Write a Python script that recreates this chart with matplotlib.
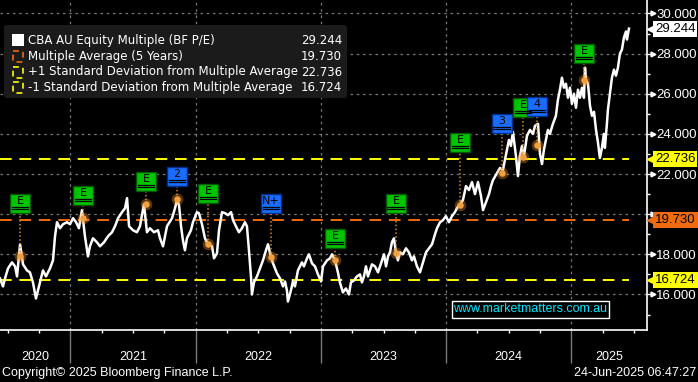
import matplotlib
matplotlib.use("Agg")
import matplotlib.pyplot as plt
import matplotlib.patches as mpatches
import matplotlib.transforms as mtransforms
import numpy as np

# CBA AU forward P/E (time in decimal years)
t_year = [
    2020.439, 2020.463, 2020.479, 2020.503, 2020.535, 2020.559, 2020.575, 2020.599, 2020.623, 2020.654,
    2020.678, 2020.702, 2020.726, 2020.742, 2020.758, 2020.782, 2020.806, 2020.838, 2020.862, 2020.878,
    2020.894, 2020.918, 2020.942, 2020.974, 2020.998, 2021.022, 2021.046, 2021.069, 2021.093, 2021.117,
    2021.141, 2021.157, 2021.181, 2021.213, 2021.237, 2021.269, 2021.301, 2021.333, 2021.357, 2021.381,
    2021.413, 2021.437, 2021.453, 2021.469, 2021.500, 2021.532, 2021.556, 2021.588, 2021.612, 2021.636,
    2021.668, 2021.700, 2021.716, 2021.740, 2021.772, 2021.812, 2021.836, 2021.852, 2021.868, 2021.884,
    2021.899, 2021.915, 2021.931, 2021.963, 2021.979, 2022.011, 2022.027, 2022.051, 2022.075, 2022.099,
    2022.131, 2022.147, 2022.171, 2022.187, 2022.211, 2022.235, 2022.259, 2022.283, 2022.299, 2022.322,
    2022.346, 2022.370, 2022.394, 2022.410, 2022.426, 2022.442, 2022.450, 2022.466, 2022.490, 2022.514,
    2022.538, 2022.562, 2022.578, 2022.602, 2022.618, 2022.650, 2022.674, 2022.698, 2022.714, 2022.729,
    2022.737, 2022.761, 2022.777, 2022.793, 2022.817, 2022.849, 2022.865, 2022.889, 2022.905, 2022.929,
    2022.953, 2022.977, 2023.001, 2023.017, 2023.049, 2023.073, 2023.089, 2023.113, 2023.136, 2023.152,
    2023.176, 2023.200, 2023.224, 2023.240, 2023.264, 2023.288, 2023.312, 2023.328, 2023.344, 2023.360,
    2023.376, 2023.392, 2023.408, 2023.432, 2023.456, 2023.472, 2023.488, 2023.504, 2023.520, 2023.536,
    2023.552, 2023.567, 2023.583, 2023.599, 2023.615, 2023.631, 2023.655, 2023.679, 2023.703, 2023.727,
    2023.743, 2023.767, 2023.791, 2023.815, 2023.839, 2023.863, 2023.887, 2023.911, 2023.927, 2023.951,
    2023.974, 2023.998, 2024.022, 2024.046, 2024.070, 2024.086, 2024.110, 2024.134, 2024.158, 2024.182,
    2024.206, 2024.230, 2024.254, 2024.278, 2024.294, 2024.318, 2024.342, 2024.358, 2024.374, 2024.397,
    2024.429, 2024.453, 2024.469, 2024.485, 2024.501, 2024.517, 2024.533, 2024.557, 2024.573, 2024.589,
    2024.605, 2024.621, 2024.645, 2024.669, 2024.693, 2024.709, 2024.733, 2024.749, 2024.765, 2024.780,
    2024.796, 2024.812, 2024.828, 2024.852, 2024.876, 2024.892, 2024.908, 2024.924, 2024.940, 2024.956,
    2024.972, 2024.988, 2025.004, 2025.020, 2025.036, 2025.052, 2025.068, 2025.084, 2025.100, 2025.108,
    2025.116, 2025.132, 2025.148, 2025.164, 2025.180, 2025.196, 2025.211, 2025.227, 2025.243, 2025.259,
    2025.267, 2025.283, 2025.291, 2025.307, 2025.323, 2025.339, 2025.355, 2025.371, 2025.387, 2025.403,
    2025.419, 2025.435, 2025.443, 2025.459,
]
pe = [
    16.8, 16.4, 16.8, 17.3, 17.6, 17.4, 16.9, 18.5, 17.5, 17.2,
    17.1, 16.6, 15.8, 16.2, 16.6, 17.2, 16.9, 17.3, 17.7, 18.9,
    19.6, 19.3, 19.5, 19.6, 19.5, 19.8, 19.6, 19.3, 20.2, 18.9,
    17.9, 18.4, 18.8, 18.6, 18.4, 18.6, 18.9, 19.1, 19.4, 19.8,
    20.1, 20.3, 20.8, 19.4, 19.2, 19.1, 19.4, 20.5, 19.1, 19.3,
    19.1, 19.2, 18.8, 18.4, 19.4, 19.8, 20.3, 20.7, 20.45, 19.4,
    18.7, 18.2, 18.8, 19.2, 19.6, 20.1, 20.05, 19.5, 18.8, 18.5,
    18.4, 17.8, 18.05, 19.2, 20.1, 20.05, 19.95, 20.1, 19.7, 19.4,
    19.1, 19.3, 19.6, 19.4, 18.2, 16.9, 16.0, 16.6, 16.9, 17.3,
    17.7, 18.2, 18.5, 17.85, 17.55, 17.05, 16.8, 16.4, 16.65, 16.2,
    15.65, 16.2, 16.65, 16.4, 17.2, 17.6, 17.4, 17.8, 18.0, 17.55,
    17.4, 17.0, 16.65, 17.4, 17.7, 17.8, 18.0, 17.7, 17.1, 16.6,
    16.1, 16.3, 16.0, 16.6, 16.7, 16.9, 17.0, 16.6, 16.9, 17.4,
    16.9, 17.2, 17.5, 17.4, 17.1, 17.4, 17.7, 18.0, 17.4, 17.9,
    18.1, 18.6, 18.8, 18.1, 17.7, 18.1, 18.0, 18.3, 18.1, 17.7,
    17.9, 17.4, 17.1, 17.6, 18.1, 18.3, 18.5, 19.0, 19.3, 19.6,
    19.7, 19.9, 19.6, 19.9, 20.1, 20.3, 20.5, 20.7, 21.4, 21.2,
    21.6, 21.0, 21.6, 20.9, 20.2, 20.6, 21.0, 21.4, 21.7, 21.95,
    22.3, 22.2, 22.7, 23.2, 23.7, 23.4, 24.1, 22.9, 21.9, 22.9,
    23.4, 22.9, 23.9, 24.2, 24.0, 24.4, 24.5, 23.0, 22.5, 23.2,
    23.7, 24.2, 24.0, 24.5, 24.9, 25.7, 26.2, 26.8, 26.3, 26.5,
    25.8, 26.3, 25.5, 26.0, 25.3, 26.2, 25.8, 26.3, 25.8, 27.3,
    26.7, 26.5, 25.4, 24.9, 25.1, 24.2, 23.6, 22.8, 23.3, 24.0,
    23.3, 24.5, 25.2, 26.0, 26.8, 27.2, 26.9, 27.3, 28.0, 28.2,
    28.8, 29.1, 28.7, 29.244,
]

last_pe = 29.244
avg_5y = 19.730
plus_1sd = 22.736
minus_1sd = 16.724

# event markers (E = earnings, numbers / N+ = news)
event_t = [2020.599, 2021.101, 2021.604, 2021.852, 2022.099, 2022.602, 2023.113,
           2023.599, 2024.110, 2024.445, 2024.613, 2024.725, 2025.100]
event_pe = [17.9, 19.8, 20.5, 20.75, 18.5, 17.85, 17.7, 18.05, 20.46, 22.07, 22.87, 23.45, 26.7]
event_tag = ["E", "E", "E", "2", "E", "N+", "E", "E", "E", "3", "E", "4", "E"]
event_label_level = [20.06, 20.46, 21.16, 21.41, 20.56, 20.06, 18.32, 20.06, 23.10, 24.05, 24.84, 24.89, 27.53]

years = [2020, 2021, 2022, 2023, 2024, 2025]
legend_rows = [
    ("CBA AU Equity Multiple (BF P/E)", last_pe),
    ("Multiple Average (5 Years)", avg_5y),
    ("+1 Standard Deviation from Multiple Average", plus_1sd),
    ("-1 Standard Deviation from Multiple Average", minus_1sd),
]

W, H = 698, 382
YELLOW = "#ffff00"
ORANGE = "#f06a10"
GRID = "#7a7a7a"
NARROW = ["Liberation Sans", "DejaVu Sans"]

fig = plt.figure(figsize=(W / 100, H / 100), dpi=100, facecolor="black")
ax = fig.add_axes([0, 52 / H, 647 / W, 330 / H])
ax.set_facecolor("black")
x0, x1 = 2020.439, 2025.603
ax.set_xlim(x0, x1)
ax.set_ylim(14.23, 30.67)

for side in ("left", "top"):
    ax.spines[side].set_visible(False)
for side in ("right", "bottom"):
    ax.spines[side].set_color("white")
    ax.spines[side].set_linewidth(1.2)

# grid and ticks
major_y = np.arange(16, 31, 2)
ax.set_yticks(major_y)
ax.set_yticks(np.arange(15, 30, 2), minor=True)
ax.set_yticklabels(["" if v == 20 else f"{v:.3f}" for v in major_y], family=NARROW)
ax.yaxis.tick_right()
ax.tick_params(axis="y", which="major", colors="white", labelcolor="white",
               labelsize=9.5, length=4.5, width=1, direction="out", pad=2)
ax.tick_params(axis="y", which="minor", colors="white", length=2.5, width=1)
ax.set_xticks(years[1:])
ax.set_xticks([y + q for y in years for q in (0.25, 0.5, 0.75) if x0 < y + q < x1], minor=True)
ax.set_xticklabels([])
ax.tick_params(axis="x", which="major", colors=GRID, length=24, width=1)
ax.tick_params(axis="x", which="minor", colors="white", length=2.5, width=1)
ax.grid(True, which="major", color=GRID, linestyle=(0, (2, 3)), linewidth=0.9)

# tick arrowheads on the right axis
ybl = mtransforms.blended_transform_factory(ax.transAxes, ax.transData)
ax.plot([1.0 + 5.5 / 647] * len(major_y), major_y, ls="none", marker=">", ms=3.5,
        color="white", transform=ybl, clip_on=False)

# reference levels
t_end = t_year[-1]
ax.hlines([plus_1sd, minus_1sd], x0, t_end, colors=YELLOW, linestyles=(0, (6, 4)), lw=1.4, zorder=3)
ax.hlines(avg_5y, x0, t_end, colors=ORANGE, linestyles=(0, (6, 4)), lw=1.4, zorder=3)

# price multiple
ax.plot(t_year, pe, color="white", lw=1.8, zorder=4)

# events
box_w, box_h = 0.16, 0.95
for t, v, tag, lvl in zip(event_t, event_pe, event_tag, event_label_level):
    ax.plot([t, t], [v, lvl], color="#d98a20", ls=(0, (1, 1.5)), lw=1.1, zorder=5)
    ax.scatter([t], [v], s=70, color="#ff9a30", alpha=0.35, lw=0, zorder=6)
    ax.scatter([t], [v], s=22, color="#f0a040", lw=0, zorder=6)
    green = tag == "E"
    fc = "#00c400" if green else "#1a6cff"
    ec = "#005800" if green else "#002f8a"
    ax.add_patch(mpatches.Rectangle((t - box_w / 2, lvl), box_w, box_h, fc=fc, ec=ec,
                                    lw=1, zorder=7))
    ax.text(t, lvl + box_h * 0.62, tag, ha="center", va="center", fontsize=8,
            color="black", zorder=8)
    for frac in (0.2, 0.32):
        ax.plot([t - box_w * 0.42, t + box_w * 0.42], [lvl + box_h * frac] * 2,
                color="black", lw=0.9, zorder=8)

# right-hand value tags
for val, fc in [(last_pe, "white"), (plus_1sd, YELLOW), (avg_5y, ORANGE), (minus_1sd, YELLOW)]:
    ax.plot([1.0 + 5 / 647], [val], marker="<", ms=7, color=fc, transform=ybl,
            clip_on=False, zorder=11)
    ax.text(1.0 + 8 / 647, val, f"{val:.3f}", transform=ybl, ha="left", va="center",
            fontsize=9.5, family=NARROW, color="black", clip_on=False, zorder=12,
            bbox=dict(boxstyle="square,pad=0.15", fc=fc, ec="none"))

# year labels centred on the visible part of each year
xbl = mtransforms.blended_transform_factory(ax.transData, fig.transFigure)
for y in years:
    lo, hi = max(y, x0), min(y + 1, x1)
    ax.text((lo + hi) / 2, 25 / H, str(y), transform=xbl, ha="center", va="center",
            fontsize=9, family=NARROW, color="white", clip_on=False)

# overlay in pixel coordinates for legend / footer
ov = fig.add_axes([0, 0, 1, 1])
ov.set_xlim(0, W)
ov.set_ylim(H, 0)
ov.axis("off")
ov.patch.set_alpha(0)

ov.add_patch(mpatches.FancyBboxPatch((4, 25), 343, 73, boxstyle="round,pad=0,rounding_size=3",
                                     fc="#1b1b1b", ec="none"))
row_y = [40.5, 56.5, 72, 87.5]
ov.add_patch(mpatches.Rectangle((12, 34), 12, 12, fc="white", ec="none"))
for ry, col in zip(row_y[1:], [ORANGE, YELLOW, YELLOW]):
    ov.add_patch(mpatches.Rectangle((13, ry - 5.5), 10, 11, fc="none", ec=col, lw=1.2,
                                    ls=(0, (3.5, 3))))
for ry, (label, val) in zip(row_y, legend_rows):
    ov.text(28, ry, label, ha="left", va="center", fontsize=8.5, color="white")
    ov.text(342, ry, f"{val:.3f}", ha="right", va="center", fontsize=8.5, color="white")

ov.add_patch(mpatches.Rectangle((452, 301), 157, 17, fc="black", ec="white", lw=1))
ov.text(530.5, 309.5, "www.marketmatters.com.au", ha="center", va="center",
        fontsize=9, family=NARROW, color="#00e5ff")

ov.text(2, 373, "Copyright\u00a9 2025 Bloomberg Finance L.P.", ha="left", va="center",
        fontsize=9, family=NARROW, color="white")
ov.text(696, 373, "24-Jun-2025 06:47:27", ha="right", va="center", fontsize=9,
        family=NARROW, color="white")

fig.savefig("out.png", dpi=100, facecolor="black")
